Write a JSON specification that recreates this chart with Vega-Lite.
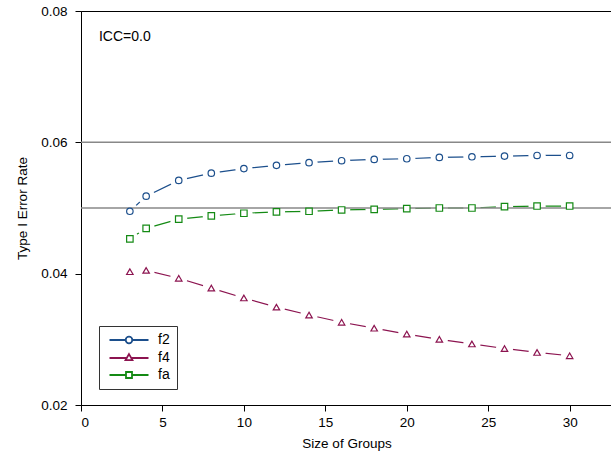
{
  "$schema": "https://vega.github.io/schema/vega-lite/v6.json",
  "width": 531,
  "height": 394,
  "autosize": "none",
  "padding": {"left": 81, "top": 11, "right": 0, "bottom": 56},
  "background": "white",
  "config": {
    "font": "Liberation Sans",
    "view": {"stroke": "black", "strokeWidth": 1},
    "axis": {
      "grid": false,
      "domainColor": "black",
      "tickColor": "black",
      "labelColor": "black",
      "titleColor": "black",
      "labelFontSize": 13.5,
      "titleFontSize": 13.5,
      "titleFontWeight": "normal",
      "tickSize": 6
    }
  },
  "datasets": {
    "rates": [
      {"series": "f2", "n": 3, "rate": 0.0495},
      {"series": "f2", "n": 4, "rate": 0.0518},
      {"series": "f2", "n": 6, "rate": 0.0542},
      {"series": "f2", "n": 8, "rate": 0.0553},
      {"series": "f2", "n": 10, "rate": 0.0560},
      {"series": "f2", "n": 12, "rate": 0.0565},
      {"series": "f2", "n": 14, "rate": 0.0569},
      {"series": "f2", "n": 16, "rate": 0.0572},
      {"series": "f2", "n": 18, "rate": 0.0574},
      {"series": "f2", "n": 20, "rate": 0.0575},
      {"series": "f2", "n": 22, "rate": 0.0577},
      {"series": "f2", "n": 24, "rate": 0.0578},
      {"series": "f2", "n": 26, "rate": 0.0579},
      {"series": "f2", "n": 28, "rate": 0.0580},
      {"series": "f2", "n": 30, "rate": 0.0580},
      {"series": "f4", "n": 3, "rate": 0.0403},
      {"series": "f4", "n": 4, "rate": 0.0405},
      {"series": "f4", "n": 6, "rate": 0.0393},
      {"series": "f4", "n": 8, "rate": 0.0378},
      {"series": "f4", "n": 10, "rate": 0.0363},
      {"series": "f4", "n": 12, "rate": 0.0349},
      {"series": "f4", "n": 14, "rate": 0.0337},
      {"series": "f4", "n": 16, "rate": 0.0326},
      {"series": "f4", "n": 18, "rate": 0.0317},
      {"series": "f4", "n": 20, "rate": 0.0308},
      {"series": "f4", "n": 22, "rate": 0.0300},
      {"series": "f4", "n": 24, "rate": 0.0293},
      {"series": "f4", "n": 26, "rate": 0.0286},
      {"series": "f4", "n": 28, "rate": 0.0280},
      {"series": "f4", "n": 30, "rate": 0.0275},
      {"series": "fa", "n": 3, "rate": 0.0453},
      {"series": "fa", "n": 4, "rate": 0.0469},
      {"series": "fa", "n": 6, "rate": 0.0483},
      {"series": "fa", "n": 8, "rate": 0.0488},
      {"series": "fa", "n": 10, "rate": 0.0492},
      {"series": "fa", "n": 12, "rate": 0.0494},
      {"series": "fa", "n": 14, "rate": 0.0495},
      {"series": "fa", "n": 16, "rate": 0.0497},
      {"series": "fa", "n": 18, "rate": 0.0498},
      {"series": "fa", "n": 20, "rate": 0.0499},
      {"series": "fa", "n": 22, "rate": 0.0500},
      {"series": "fa", "n": 24, "rate": 0.0500},
      {"series": "fa", "n": 26, "rate": 0.0502},
      {"series": "fa", "n": 28, "rate": 0.0503},
      {"series": "fa", "n": 30, "rate": 0.0503}
    ],
    "refs": [{"ref": 0.06}, {"ref": 0.05}],
    "note": [{"label": "ICC=0.0"}]
  },
  "resolve": {"scale": {"color": "independent", "shape": "independent"}, "legend": {"color": "independent", "shape": "independent"}},
  "layer": [
    {
      "data": {"name": "rates"},
      "mark": {"type": "line", "strokeWidth": 1.2},
      "encoding": {
        "x": {
          "field": "n",
          "type": "quantitative",
          "scale": {"domain": [0, 32.6], "nice": false, "zero": false},
          "axis": {"values": [0, 5, 10, 15, 20, 25, 30], "title": "Size of Groups", "labelPadding": 4, "titlePadding": 8}
        },
        "y": {
          "field": "rate",
          "type": "quantitative",
          "scale": {"domain": [0.02, 0.08], "nice": false, "zero": false},
          "axis": {"values": [0.02, 0.04, 0.06, 0.08], "format": ".2f", "title": "Type I Error Rate", "labelPadding": 8, "titlePadding": 11}
        },
        "color": {
          "field": "series",
          "type": "nominal",
          "scale": {"domain": ["f2", "f4", "fa"], "range": ["#1c4f8c", "#8c1450", "#148a14"]},
          "legend": {
            "title": null,
            "orient": "none",
            "legendX": 18,
            "legendY": 315,
            "padding": 7,
            "strokeColor": "#333333",
            "fillColor": "white",
            "symbolSize": 36,
            "symbolStrokeWidth": 1.8,
            "symbolFillColor": "white",
            "symbolOffset": 16,
            "labelOffset": 22,
            "labelFontSize": 14,
            "labelColor": "black",
            "rowPadding": 3,
            "encode": {
              "symbols": {
                "update": {
                  "shape": {"signal": "datum.value === 'f2' ? 'M-6.5,0H-1.1M1.1,0H6.5M-1.1,0A1.1,1.1 0 1,0 1.1,0A1.1,1.1 0 1,0 -1.1,0Z' : datum.value === 'f4' ? 'M-6.5,0H-0.8M0.8,0H6.5M0,-1.3L1.15,0.7L-1.15,0.7Z' : 'M-6.5,0H-1M1,0H6.5M-1,-1H1V1H-1Z'"},
                  "fill": {"value": "white"}
                }
              }
            }
          }
        }
      }
    },
    {
      "data": {"name": "rates"},
      "mark": {"type": "point", "filled": true, "color": "white", "opacity": 1, "size": 300, "strokeWidth": 0},
      "encoding": {
        "x": {"field": "n", "type": "quantitative"},
        "y": {"field": "rate", "type": "quantitative"}
      }
    },
    {
      "data": {"name": "refs"},
      "mark": {"type": "rule", "color": "#888888", "strokeWidth": 1.5},
      "encoding": {
        "y": {"field": "ref", "type": "quantitative"}
      }
    },
    {
      "data": {"name": "rates"},
      "mark": {"type": "point", "filled": false, "fill": "white", "fillOpacity": 1, "opacity": 1, "size": 42, "strokeWidth": 1.2},
      "encoding": {
        "x": {"field": "n", "type": "quantitative"},
        "y": {"field": "rate", "type": "quantitative"},
        "color": {
          "field": "series",
          "type": "nominal",
          "scale": {"domain": ["f2", "f4", "fa"], "range": ["#1c4f8c", "#8c1450", "#148a14"]},
          "legend": null
        },
        "shape": {
          "field": "series",
          "type": "nominal",
          "scale": {"domain": ["f2", "f4", "fa"], "range": ["circle", "triangle-up", "square"]},
          "legend": null
        }
      }
    },
    {
      "data": {"name": "note"},
      "mark": {"type": "text", "align": "left", "baseline": "middle", "fontSize": 14, "color": "black"},
      "encoding": {
        "x": {"datum": 1.1, "type": "quantitative"},
        "y": {"datum": 0.0760, "type": "quantitative"},
        "text": {"field": "label", "type": "nominal"}
      }
    }
  ]
}
